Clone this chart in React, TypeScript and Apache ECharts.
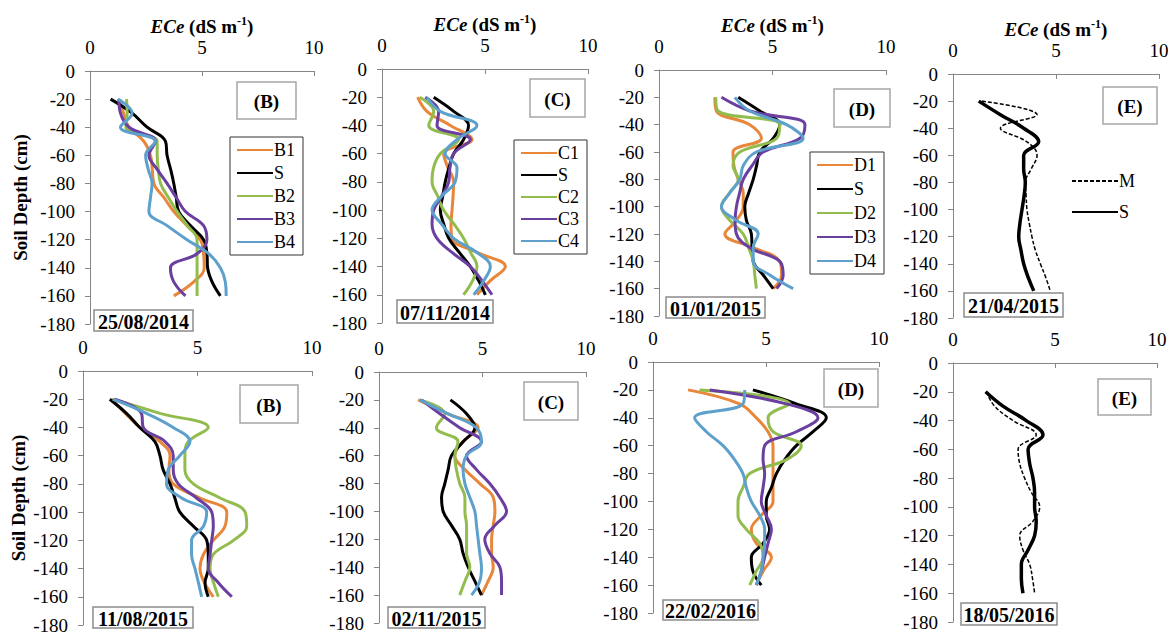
import React, { useEffect, useRef } from 'react';
import * as echarts from 'echarts';

// Depth of each observation (cm)
const DEPTHS = [-20, -30, -40, -50, -60, -70, -80, -90, -100, -110, -120, -130, -140, -150, -160];
const X_TITLE = '{i|ECe} {b|(dS m}{s|-1}{b|)}';
const Y_TITLE = 'Soil Depth (cm)';

// Panel 1: 25/08/2014 (B)
const P1_S = [0.92, 1.88, 2.55, 3.37, 3.44, 3.6, 3.74, 3.85, 3.96, 4.48, 5.07, 5.22, 5.25, 5.45, 5.82];
const P1_B1 = [1.29, 1.5, 1.74, 2.4, 2.7, 2.78, 2.85, 3.3, 3.74, 4.33, 4.93, 5.07, 5.1, 4.63, 3.74];
const P1_B2 = [1.63, 1.66, 1.6, 3.0, 3.0, 3.05, 3.15, 3.5, 3.89, 4.35, 4.78, 4.78, 4.78, 4.78, 4.78];
const P1_B3 = [1.29, 1.36, 1.74, 2.92, 2.63, 3.0, 3.44, 3.85, 4.26, 5.07, 5.22, 4.78, 3.59, 3.74, 4.26];
const P1_B4 = [1.25, 1.88, 1.36, 2.92, 2.48, 2.6, 2.77, 2.7, 2.63, 3.44, 4.33, 5.3, 5.82, 6.04, 6.08];

// Panel 2: 07/11/2014 (C)
const P2_S = [2.51, 3.48, 4.2, 3.96, 3.48, 3.25, 3.07, 2.95, 2.83, 3.0, 3.24, 3.75, 4.29, 4.69, 5.02];
const P2_C1 = [1.73, 2.18, 3.32, 4.37, 2.99, 3.2, 3.48, 3.45, 3.4, 3.35, 3.4, 4.61, 5.99, 5.26, 4.61];
const P2_C2 = [1.83, 2.51, 2.27, 3.72, 2.83, 2.5, 2.43, 2.7, 2.99, 3.5, 3.96, 4.3, 4.61, 4.4, 3.96];
const P2_C3 = [2.1, 2.75, 2.67, 4.29, 3.48, 3.3, 3.24, 2.9, 2.51, 2.43, 2.67, 3.4, 4.29, 4.85, 5.34];
const P2_C4 = [2.18, 2.83, 4.61, 3.64, 3.07, 3.64, 3.55, 2.9, 2.43, 2.9, 3.48, 4.61, 5.26, 4.94, 4.45];

// Panel 3: 01/01/2015 (D)
const P3_S = [3.49, 4.44, 5.32, 5.03, 4.44, 4.3, 4.15, 3.95, 3.78, 3.85, 4.07, 4.1, 4.15, 4.59, 5.03];
const P3_D1 = [2.46, 2.53, 4.0, 4.51, 3.26, 3.3, 3.49, 3.71, 3.71, 3.41, 2.9, 4.15, 5.32, 5.4, 5.03];
const P3_D2 = [2.5, 2.6, 5.32, 5.18, 3.56, 3.26, 3.49, 3.1, 2.75, 3.12, 3.71, 3.95, 4.15, 4.22, 4.29];
const P3_D3 = [2.75, 4.0, 6.43, 6.21, 4.59, 4.1, 3.71, 3.55, 3.41, 3.35, 3.41, 4.0, 5.32, 5.47, 5.18];
const P3_D4 = [3.34, 4.0, 5.62, 6.35, 4.29, 3.71, 3.56, 3.12, 2.75, 3.41, 4.37, 4.15, 4.15, 4.88, 5.91];

// Panel 4: 21/04/2015 (E)
const P4_M = [1.41, 4.08, 2.3, 3.59, 4.08, 3.8, 3.51, 3.55, 3.59, 3.7, 3.83, 4.0, 4.24, 4.5, 4.72];
const P4_S = [1.25, 2.3, 3.43, 4.16, 3.43, 3.43, 3.51, 3.45, 3.35, 3.25, 3.19, 3.3, 3.43, 3.65, 3.92];

// Panel 5: 11/08/2015 (B)
const P5_S = [1.17, 1.9, 2.48, 3.14, 3.36, 3.5, 3.8, 4.01, 4.23, 4.82, 5.4, 5.47, 5.47, 5.33, 5.47];
const P5_B1 = [1.24, 1.85, 2.48, 3.36, 3.8, 3.75, 3.94, 5.11, 6.28, 6.2, 5.69, 5.26, 5.11, 5.3, 5.69];
const P5_B2 = [1.31, 3.36, 5.47, 4.6, 4.45, 4.45, 4.82, 5.99, 7.08, 7.15, 6.57, 5.69, 5.55, 5.7, 5.91];
const P5_B3 = [1.39, 2.55, 2.63, 3.58, 3.94, 3.94, 4.16, 4.96, 5.62, 5.69, 5.62, 5.55, 5.47, 5.91, 6.5];
const P5_B4 = [1.31, 2.77, 3.94, 4.67, 4.23, 3.72, 3.65, 4.31, 5.4, 5.26, 4.74, 4.74, 4.89, 5.04, 5.18];

// Panel 6: 02/11/2015 (C)
const P6_S = [3.45, 4.23, 4.63, 4.06, 3.5, 3.34, 3.18, 3.02, 3.1, 3.5, 3.9, 4.06, 4.31, 4.63, 4.95];
const P6_C1 = [1.89, 3.34, 4.79, 4.06, 3.66, 4.15, 4.87, 5.52, 5.6, 5.52, 5.44, 5.44, 5.52, 5.27, 4.95];
const P6_C2 = [1.97, 3.18, 2.77, 3.82, 3.66, 3.74, 3.9, 4.15, 4.15, 4.23, 4.23, 4.23, 4.39, 4.15, 3.9];
const P6_C3 = [2.05, 2.94, 3.9, 4.95, 4.23, 4.71, 5.35, 5.84, 6.16, 5.6, 5.11, 5.35, 5.84, 5.92, 5.92];
const P6_C4 = [1.97, 3.34, 4.71, 4.95, 4.23, 4.06, 4.15, 4.39, 4.63, 4.71, 4.79, 4.87, 4.95, 4.87, 4.47];

// Panel 7: 22/02/2016 (D)
const P7_S = [4.42, 6.34, 7.67, 7.08, 6.34, 5.83, 5.46, 5.24, 5.01, 5.01, 5.16, 4.87, 4.35, 4.42, 4.79];
const P7_D1 = [1.55, 3.83, 4.57, 5.09, 5.31, 5.31, 5.31, 5.31, 5.31, 4.79, 4.35, 4.57, 5.24, 4.87, 4.57];
const P7_D2 = [2.06, 6.05, 5.09, 5.31, 6.56, 5.9, 4.28, 3.98, 3.76, 3.76, 4.13, 4.72, 4.87, 4.57, 4.28];
const P7_D3 = [2.51, 5.9, 7.3, 6.34, 4.94, 4.87, 4.94, 4.87, 4.79, 5.01, 5.24, 5.09, 4.94, 4.79, 4.57];
const P7_D4 = [4.06, 3.98, 1.84, 2.36, 3.1, 3.61, 3.98, 4.13, 4.35, 4.72, 4.94, 4.94, 4.87, 4.79, 4.57];

// Panel 8: 18/05/2016 (E)
const P8_M = [1.63, 2.04, 2.94, 4.08, 3.19, 3.27, 3.51, 3.84, 4.25, 3.92, 3.27, 3.43, 3.76, 3.9, 4.0];
const P8_S = [1.6, 2.45, 3.59, 4.41, 3.68, 3.76, 3.92, 4.0, 4.0, 4.08, 4.0, 3.68, 3.35, 3.35, 3.43];

const PANEL_LETTERS = ['(B)', '(C)', '(D)', '(E)', '(B)', '(C)', '(D)', '(E)'];
const PANEL_DATES = ['25/08/2014', '07/11/2014', '01/01/2015', '21/04/2015', '11/08/2015', '02/11/2015', '22/02/2016', '18/05/2016'];

const ORANGE = '#E8863A';
const BLACK = '#000000';
const GREEN = '#93BC4E';
const PURPLE = '#6B3FA0';
const BLUE = '#5DA0CC';

type Line = { name: string; values: number[]; color: string; dashed?: boolean };

const PANEL_LINES: Line[][] = [
  [
    { name: 'B1', values: P1_B1, color: ORANGE },
    { name: 'S', values: P1_S, color: BLACK },
    { name: 'B2', values: P1_B2, color: GREEN },
    { name: 'B3', values: P1_B3, color: PURPLE },
    { name: 'B4', values: P1_B4, color: BLUE },
  ],
  [
    { name: 'C1', values: P2_C1, color: ORANGE },
    { name: 'S', values: P2_S, color: BLACK },
    { name: 'C2', values: P2_C2, color: GREEN },
    { name: 'C3', values: P2_C3, color: PURPLE },
    { name: 'C4', values: P2_C4, color: BLUE },
  ],
  [
    { name: 'D1', values: P3_D1, color: ORANGE },
    { name: 'S', values: P3_S, color: BLACK },
    { name: 'D2', values: P3_D2, color: GREEN },
    { name: 'D3', values: P3_D3, color: PURPLE },
    { name: 'D4', values: P3_D4, color: BLUE },
  ],
  [
    { name: 'M', values: P4_M, color: BLACK, dashed: true },
    { name: 'S', values: P4_S, color: BLACK },
  ],
  [
    { name: 'B1', values: P5_B1, color: ORANGE },
    { name: 'S', values: P5_S, color: BLACK },
    { name: 'B2', values: P5_B2, color: GREEN },
    { name: 'B3', values: P5_B3, color: PURPLE },
    { name: 'B4', values: P5_B4, color: BLUE },
  ],
  [
    { name: 'C1', values: P6_C1, color: ORANGE },
    { name: 'S', values: P6_S, color: BLACK },
    { name: 'C2', values: P6_C2, color: GREEN },
    { name: 'C3', values: P6_C3, color: PURPLE },
    { name: 'C4', values: P6_C4, color: BLUE },
  ],
  [
    { name: 'D1', values: P7_D1, color: ORANGE },
    { name: 'S', values: P7_S, color: BLACK },
    { name: 'D2', values: P7_D2, color: GREEN },
    { name: 'D3', values: P7_D3, color: PURPLE },
    { name: 'D4', values: P7_D4, color: BLUE },
  ],
  [
    { name: 'M', values: P8_M, color: BLACK, dashed: true },
    { name: 'S', values: P8_S, color: BLACK },
  ],
];

// Layout of each panel (pixels)
const GRIDS = [
  { left: 90, top: 71, width: 224, height: 253 },
  { left: 382, top: 69, width: 206, height: 254 },
  { left: 659, top: 70, width: 227, height: 246 },
  { left: 953, top: 74, width: 206, height: 244 },
  { left: 83, top: 371, width: 229, height: 254 },
  { left: 379, top: 372, width: 207, height: 251 },
  { left: 653, top: 362, width: 226, height: 251 },
  { left: 953, top: 363, width: 204, height: 259 },
];
const LETTER_BOXES = [
  [237, 82, 59, 37], [530, 79, 55, 38], [834, 89, 56, 38], [1103, 87, 54, 37],
  [240, 385, 58, 38], [524, 382, 54, 38], [824, 369, 54, 38], [1098, 379, 53, 36],
];
const DATE_BOXES = [
  [94, 310, 99, 21], [397, 300, 96, 23], [666, 297, 99, 21], [964, 293, 99, 24],
  [93, 607, 100, 21], [388, 607, 97, 21], [663, 600, 95, 20], [961, 603, 96, 22],
];
const LEGENDS = [
  { panel: 0, left: 230, top: 137, border: true, gap: 5 },
  { panel: 1, left: 514, top: 140, border: true, gap: 4 },
  { panel: 2, left: 810, top: 152, border: true, gap: 6 },
  { panel: 3, left: 1071, top: 172, border: false, gap: 13 },
];

const FONT = "'Liberation Serif', 'Times New Roman', serif";

export default function App() {
  const ref = useRef<HTMLDivElement>(null);
  useEffect(() => {
    if (!ref.current) return;
    const chart = echarts.init(ref.current, undefined, { renderer: 'svg' });

    const grid = GRIDS.map((g) => ({ ...g, containLabel: false, outerBoundsMode: 'none' }));

    const xAxis = GRIDS.map((_, i) => ({
      type: 'value',
      gridIndex: i,
      position: 'top',
      min: 0,
      max: 10,
      interval: 5,
      name: i < 4 ? X_TITLE : '',
      nameLocation: 'middle',
      nameGap: 34,
      nameMoveOverlap: false,
      nameTextStyle: {
        fontFamily: FONT,
        fontSize: 19,
        fontWeight: 'bold',
        color: '#000',
        rich: {
          i: { fontFamily: FONT, fontSize: 19, fontStyle: 'italic', fontWeight: 'bold', color: '#000', lineHeight: 22 },
          b: { fontFamily: FONT, fontSize: 19, fontWeight: 'bold', color: '#000', lineHeight: 22 },
          s: { fontFamily: FONT, fontSize: 12, fontWeight: 'bold', color: '#000', verticalAlign: 'top', lineHeight: 22 },
        },
      },
      axisLine: { show: true, onZero: false, lineStyle: { color: '#868686', width: 1 } },
      axisTick: { show: true, inside: true, length: 5, lineStyle: { color: '#868686' } },
      axisLabel: { fontFamily: FONT, fontSize: 19, color: '#000', margin: 14 },
      splitLine: { show: false },
    }));

    const yAxis = GRIDS.map((_, i) => ({
      type: 'value',
      gridIndex: i,
      min: -180,
      max: 0,
      interval: 20,
      name: i === 0 || i === 4 ? Y_TITLE : '',
      nameLocation: 'middle',
      nameRotate: 90,
      nameGap: i === 0 ? 60 : 55,
      nameMoveOverlap: false,
      nameTextStyle: { fontFamily: FONT, fontSize: 19, fontWeight: 'bold', color: '#000' },
      axisLine: { show: true, onZero: false, lineStyle: { color: '#868686', width: 1 } },
      axisTick: { show: true, inside: false, length: 5, lineStyle: { color: '#868686' } },
      axisLabel: { fontFamily: FONT, fontSize: 19, color: '#000', margin: 15 },
      splitLine: { show: false },
    }));

    const series: any[] = [];
    PANEL_LINES.forEach((lines, i) => {
      lines.forEach((ln) => {
        series.push({
          type: 'line',
          name: ln.name,
          xAxisIndex: i,
          yAxisIndex: i,
          data: ln.values.map((v, j) => [v, DEPTHS[j]]),
          smooth: 0.4,
          symbol: 'none',
          showSymbol: false,
          lineStyle: {
            color: ln.color,
            width: ln.dashed ? 1.5 : (ln.color === BLACK && lines.length === 2 ? 3.5 : 3),
            type: ln.dashed ? [4, 2] : 'solid',
          },
          itemStyle: { color: ln.color },
          z: 2,
        });
      });
    });

    const legend = LEGENDS.map((lg) => ({
      show: true,
      orient: 'vertical',
      left: lg.left,
      top: lg.top,
      data: PANEL_LINES[lg.panel].map((l) => l.name),
      itemWidth: lg.border ? 36 : 46,
      itemHeight: 14,
      itemGap: lg.gap,
      padding: lg.border ? [4, 8, 4, 6] : 0,
      borderColor: lg.border ? '#333' : 'transparent',
      borderWidth: lg.border ? 1 : 0,
      backgroundColor: lg.border ? '#fff' : 'transparent',
      selectedMode: false,
      itemStyle: { opacity: 0, borderWidth: 0 },
      textStyle: { fontFamily: FONT, fontSize: 18, color: '#000', padding: [0, 0, 0, -4] },
    }));

    const graphic: any[] = [];
    LETTER_BOXES.forEach((b, i) => {
      graphic.push({
        type: 'rect',
        shape: { x: b[0], y: b[1], width: b[2], height: b[3] },
        style: { fill: '#fff', stroke: '#A6A6A6', lineWidth: 1.5 },
        z: 10,
      });
      graphic.push({
        type: 'text',
        x: b[0] + b[2] / 2,
        y: b[1] + b[3] / 2 + 1,
        style: {
          text: PANEL_LETTERS[i],
          fill: '#000',
          font: `bold 19px ${FONT}`,
          align: 'center',
          verticalAlign: 'middle',
        },
        z: 11,
      });
    });
    DATE_BOXES.forEach((b, i) => {
      graphic.push({
        type: 'rect',
        shape: { x: b[0], y: b[1], width: b[2], height: b[3] },
        style: { fill: '#fff', stroke: '#8C8C8C', lineWidth: 1.5 },
        z: 10,
      });
      graphic.push({
        type: 'text',
        x: b[0] + b[2] / 2,
        y: b[1] + b[3] / 2 + 1,
        style: {
          text: PANEL_DATES[i],
          fill: '#000',
          font: `bold 20px ${FONT}`,
          align: 'center',
          verticalAlign: 'middle',
        },
        z: 11,
      });
    });

    chart.setOption({
      animation: false,
      backgroundColor: '#fff',
      grid,
      xAxis,
      yAxis,
      legend,
      series,
      graphic,
    } as any);

    return () => {
      chart.dispose();
    };
  }, []);

  return (
    <div
      ref={ref}
      style={{ position: 'absolute', left: 0, top: 0, width: 1168, height: 635 }}
    />
  );
}
